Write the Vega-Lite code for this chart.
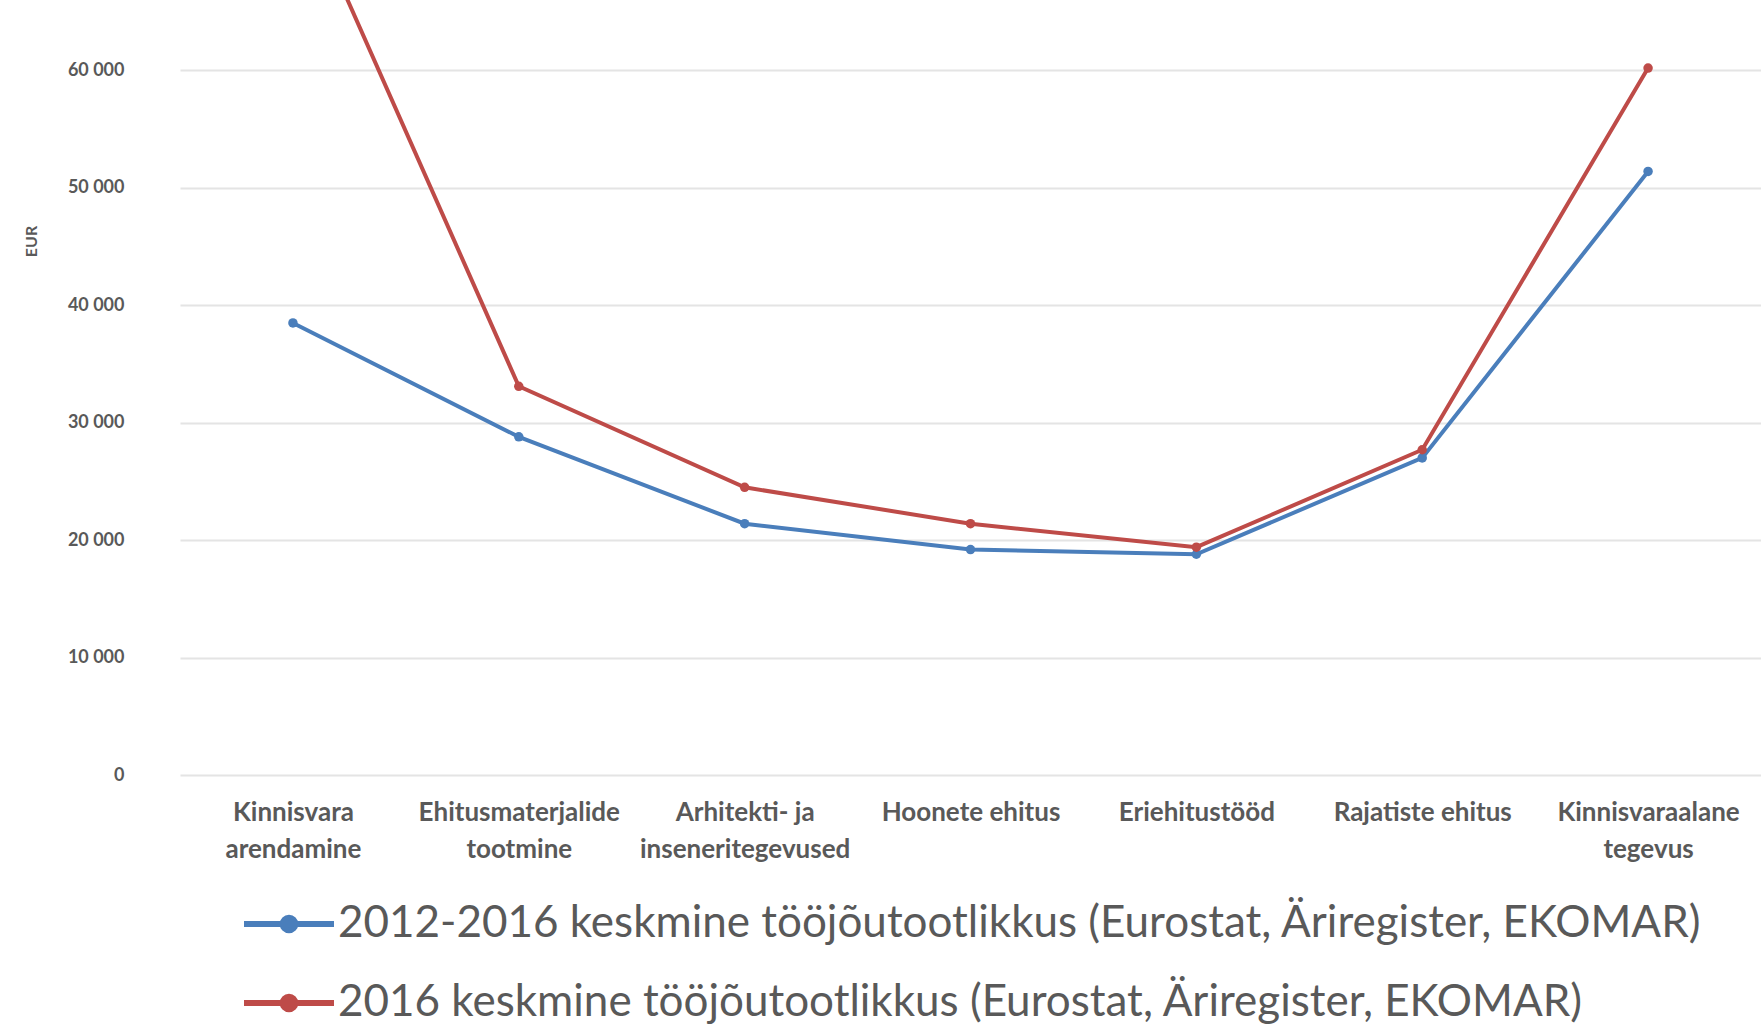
{
  "$schema": "https://vega.github.io/schema/vega-lite/v6.json",
  "autosize": {"type": "none"},
  "width": 1581,
  "height": 775,
  "padding": {"left": 180, "top": 0, "right": 0, "bottom": 253},
  "background": "white",
  "config": {
    "view": {"stroke": null},
    "font": "Lato"
  },
  "data": {
    "values": [
      {"tegevusala": "Kinnisvara arendamine", "seeria": "2012-2016 keskmine tööjõutootlikkus (Eurostat, Äriregister, EKOMAR)", "eur": 38500},
      {"tegevusala": "Ehitusmaterjalide tootmine", "seeria": "2012-2016 keskmine tööjõutootlikkus (Eurostat, Äriregister, EKOMAR)", "eur": 28800},
      {"tegevusala": "Arhitekti- ja inseneritegevused", "seeria": "2012-2016 keskmine tööjõutootlikkus (Eurostat, Äriregister, EKOMAR)", "eur": 21400},
      {"tegevusala": "Hoonete ehitus", "seeria": "2012-2016 keskmine tööjõutootlikkus (Eurostat, Äriregister, EKOMAR)", "eur": 19200},
      {"tegevusala": "Eriehitustööd", "seeria": "2012-2016 keskmine tööjõutootlikkus (Eurostat, Äriregister, EKOMAR)", "eur": 18800},
      {"tegevusala": "Rajatiste ehitus", "seeria": "2012-2016 keskmine tööjõutootlikkus (Eurostat, Äriregister, EKOMAR)", "eur": 27000},
      {"tegevusala": "Kinnisvaraalane tegevus", "seeria": "2012-2016 keskmine tööjõutootlikkus (Eurostat, Äriregister, EKOMAR)", "eur": 51400},
      {"tegevusala": "Kinnisvara arendamine", "seeria": "2016 keskmine tööjõutootlikkus (Eurostat, Äriregister, EKOMAR)", "eur": 76500},
      {"tegevusala": "Ehitusmaterjalide tootmine", "seeria": "2016 keskmine tööjõutootlikkus (Eurostat, Äriregister, EKOMAR)", "eur": 33100},
      {"tegevusala": "Arhitekti- ja inseneritegevused", "seeria": "2016 keskmine tööjõutootlikkus (Eurostat, Äriregister, EKOMAR)", "eur": 24500},
      {"tegevusala": "Hoonete ehitus", "seeria": "2016 keskmine tööjõutootlikkus (Eurostat, Äriregister, EKOMAR)", "eur": 21400},
      {"tegevusala": "Eriehitustööd", "seeria": "2016 keskmine tööjõutootlikkus (Eurostat, Äriregister, EKOMAR)", "eur": 19400},
      {"tegevusala": "Rajatiste ehitus", "seeria": "2016 keskmine tööjõutootlikkus (Eurostat, Äriregister, EKOMAR)", "eur": 27700},
      {"tegevusala": "Kinnisvaraalane tegevus", "seeria": "2016 keskmine tööjõutootlikkus (Eurostat, Äriregister, EKOMAR)", "eur": 60200}
    ]
  },
  "mark": {"type": "line", "strokeWidth": 4, "clip": true, "point": {"size": 90, "filled": true}},
  "encoding": {
    "x": {
      "field": "tegevusala",
      "type": "nominal",
      "sort": null,
      "scale": {"type": "point", "padding": 0.5},
      "axis": {
        "title": null,
        "domain": false,
        "ticks": false,
        "labelAngle": 0,
        "labelFont": "Lato",
        "labelFontSize": 26,
        "labelFontWeight": "bold",
        "labelColor": "#595959",
        "labelPadding": 37,
        "labelLineHeight": 37,
        "labelBaseline": "middle",
        "labelLimit": 300,
        "labelExpr": "datum.label == 'Kinnisvara arendamine' ? ['Kinnisvara', 'arendamine'] : datum.label == 'Ehitusmaterjalide tootmine' ? ['Ehitusmaterjalide', 'tootmine'] : datum.label == 'Arhitekti- ja inseneritegevused' ? ['Arhitekti- ja', 'inseneritegevused'] : datum.label == 'Kinnisvaraalane tegevus' ? ['Kinnisvaraalane', 'tegevus'] : datum.label"
      }
    },
    "y": {
      "field": "eur",
      "type": "quantitative",
      "scale": {"domain": [0, 66000], "nice": false},
      "axis": {
        "title": "EUR",
        "titleFont": "Lato",
        "titleFontSize": 16,
        "titleFontWeight": "bold",
        "titleColor": "#595959",
        "titleAngle": -90,
        "titleX": -149,
        "titleY": 241,
        "titleAlign": "center",
        "titleBaseline": "middle",
        "values": [0, 10000, 20000, 30000, 40000, 50000, 60000],
        "labelExpr": "replace(format(datum.value, ','), ',', ' ')",
        "labelFont": "Lato",
        "labelFontSize": 18,
        "labelFontWeight": "bold",
        "labelColor": "#595959",
        "labelPadding": 56,
        "domain": false,
        "ticks": false,
        "grid": true,
        "gridColor": "#e4e4e4",
        "gridWidth": 2
      }
    },
    "color": {
      "field": "seeria",
      "type": "nominal",
      "scale": {
        "domain": ["2012-2016 keskmine tööjõutootlikkus (Eurostat, Äriregister, EKOMAR)", "2016 keskmine tööjõutootlikkus (Eurostat, Äriregister, EKOMAR)"],
        "range": ["#4a7ebb", "#be4b48"]
      },
      "legend": {
        "title": null,
        "orient": "none",
        "legendX": 61,
        "legendY": 876,
        "direction": "vertical",
        "symbolType": "M-1,0H1M-0.14,0A0.14,0.14 0 1,1 0.14,0A0.14,0.14 0 1,1 -0.14,0",
        "symbolSize": 8100,
        "symbolStrokeWidth": 6,
        "labelFont": "Lato",
        "labelFontSize": 44,
        "labelColor": "#595959",
        "labelOffset": 1,
        "labelLimit": 1700,
        "rowPadding": 9,
        "padding": 0
      }
    }
  }
}
